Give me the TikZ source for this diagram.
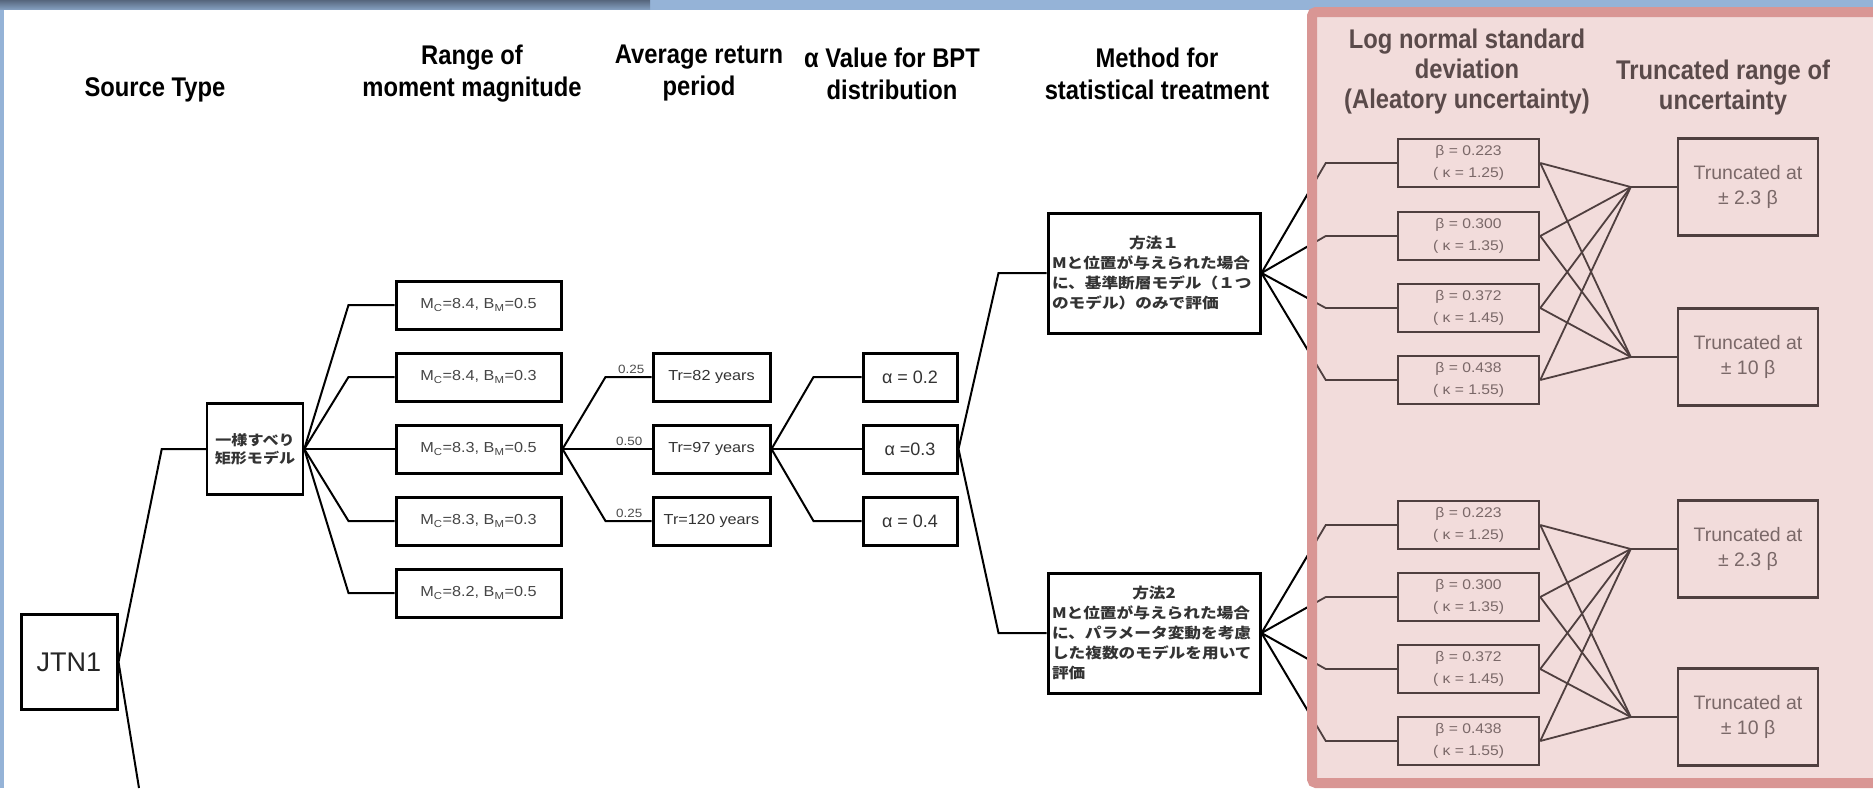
\documentclass[tikz,border=0pt]{standalone}
\usepackage{fontspec}
\setmainfont{Liberation Sans}
\newfontfamily\hdrfont[FakeStretch=0.88]{Liberation Sans}
\newfontfamily\boxfont[FakeStretch=1.12]{Liberation Sans}
\newfontfamily\jpfont[FakeStretch=1.15]{Noto Sans CJK JP}
\usetikzlibrary{calc}
\definecolor{bandblue}{HTML}{95B3D7}
\definecolor{banddark}{HTML}{56667D}
\definecolor{pinkfill}{HTML}{F2DCDB}
\definecolor{pinkedge}{HTML}{D99694}
\definecolor{pline}{HTML}{4F3F3F}
\definecolor{ptext}{HTML}{5A4A4A}
\definecolor{pgray}{HTML}{7A6868}
\definecolor{mgray}{HTML}{454545}
\tikzset{
  hdr/.style={font=\hdrfont\bfseries\fontsize{27}{32}\selectfont, align=center, inner sep=0pt, text=black},
  phdr/.style={font=\hdrfont\bfseries\fontsize{27}{30}\selectfont, align=center, inner sep=0pt, text=ptext},
  boxbase/.style={draw=black, line width=3pt, fill=white, inner sep=0pt, align=center},
  mbox/.style={boxbase, minimum width=165pt, minimum height=48pt, font=\boxfont\fontsize{14.5}{17}\selectfont, text=mgray},
  trbox/.style={boxbase, minimum width=117pt, minimum height=48pt, font=\boxfont\fontsize{14.5}{17}\selectfont, text=black!80},
  abox/.style={boxbase, minimum width=94pt, minimum height=48pt, font=\fontsize{18}{20}\selectfont, text=black!80},
  mthbox/.style={boxbase, inner sep=4pt, text width=204pt, minimum height=120pt, align=left, font=\jpfont\bfseries\fontsize{14.5}{20}\selectfont, text=black!80},
  bbox/.style={draw=pline, line width=2.5pt, fill=pinkfill, inner sep=0pt, align=center, minimum width=141pt, minimum height=48pt, font=\boxfont\fontsize{14}{22}\selectfont, text=pgray},
  tbox/.style={draw=pline, line width=2.5pt, fill=pinkfill, inner sep=0pt, align=center, minimum width=140pt, minimum height=97pt, font=\fontsize{19.5}{25}\selectfont, text=pgray},
  lbl/.style={inner sep=0pt, font=\boxfont\fontsize{12}{12}\selectfont, text=black!70},
  conn/.style={line width=2pt, draw=black},
  pconn/.style={line width=1.8pt, draw=pline}
}
\begin{document}
\begin{tikzpicture}[x=1pt,y=-1pt]
\useasboundingbox (0,0) rectangle (1873,788);
% background
\fill[white] (0,0) rectangle (1873,788);
\fill[bandblue] (0,0) rectangle (1873,10);
\fill[bandblue] (0,0) rectangle (4,788);
\shade[top color=banddark, bottom color=bandblue!70!banddark] (0,0) rectangle (650,9);
\fill[pinkfill, rounded corners=4pt] (1312,12) rectangle (1873,783);

% headers
\node[hdr] (hsrc) at (155,90) {Source Type};
\node[hdr] (hmag) at (472,73.5) {Range of\\moment magnitude};
\node[hdr] (hret) at (699,73.5) {Average return\\period};
\node[hdr] (halp) at (892,73.5) {α Value for BPT\\distribution};
\node[hdr] (hmet) at (1157,73.5) {Method for\\statistical treatment};
\node[phdr] (hlog) at (1467,72) {Log normal standard\\deviation\\(Aleatory uncertainty)};
\node[phdr] (htru) at (1723,87.5) {Truncated range of\\uncertainty};

% nodes
\node[boxbase, minimum width=96pt, minimum height=95pt, font=\fontsize{27}{30}\selectfont, text=black!85] (jtn) at (69,662) {JTN1};
\node[boxbase, line width=2.5pt, minimum width=96pt, minimum height=91pt, font=\jpfont\bfseries\fontsize{14}{18}\selectfont, text=black!80] (usm) at (255,449) {一様すべり\\矩形モデル};

\node[mbox] (m1) at (478.5,305) {M\textsubscript{C}=8.4, B\textsubscript{M}=0.5};
\node[mbox] (m2) at (478.5,377) {M\textsubscript{C}=8.4, B\textsubscript{M}=0.3};
\node[mbox] (m3) at (478.5,449) {M\textsubscript{C}=8.3, B\textsubscript{M}=0.5};
\node[mbox] (m4) at (478.5,521) {M\textsubscript{C}=8.3, B\textsubscript{M}=0.3};
\node[mbox] (m5) at (478.5,593) {M\textsubscript{C}=8.2, B\textsubscript{M}=0.5};

\node[trbox] (t1) at (711.5,377) {Tr=82 years};
\node[trbox] (t2) at (711.5,449) {Tr=97 years};
\node[trbox] (t3) at (711.5,521) {Tr=120 years};

\node[abox] (a1) at (910,377) {α = 0.2};
\node[abox] (a2) at (910,449) {α =0.3};
\node[abox] (a3) at (910,521) {α = 0.4};

\node[mthbox] (p1) at (1154,273) {\makebox[204pt]{方法１}\\Mと位置が与えられた場合\\に、基準断層モデル（１つ\\のモデル）のみで評価};
\node[mthbox] (p2) at (1154,633) {\makebox[204pt]{方法2}\\Mと位置が与えられた場合\\に、パラメータ変動を考慮\\した複数のモデルを用いて\\評価};

\node[bbox] (b1) at (1468.5,163) {β = 0.223\\( κ = 1.25)};
\node[bbox] (b2) at (1468.5,236) {β = 0.300\\( κ = 1.35)};
\node[bbox] (b3) at (1468.5,308) {β = 0.372\\( κ = 1.45)};
\node[bbox] (b4) at (1468.5,380) {β = 0.438\\( κ = 1.55)};
\node[bbox] (b5) at (1468.5,525) {β = 0.223\\( κ = 1.25)};
\node[bbox] (b6) at (1468.5,597) {β = 0.300\\( κ = 1.35)};
\node[bbox] (b7) at (1468.5,669) {β = 0.372\\( κ = 1.45)};
\node[bbox] (b8) at (1468.5,741) {β = 0.438\\( κ = 1.55)};

\node[tbox] (r1) at (1748,187) {Truncated at\\± 2.3 β};
\node[tbox] (r2) at (1748,357) {Truncated at\\± 10 β};
\node[tbox] (r3) at (1748,549) {Truncated at\\± 2.3 β};
\node[tbox] (r4) at (1748,717) {Truncated at\\± 10 β};

% labels on return-period branches
\node[lbl, anchor=south east] (l1) at ([xshift=-7pt,yshift=3pt]t1.west) {0.25};
\node[lbl, anchor=south east] (l2) at ([xshift=-9pt,yshift=3pt]t2.west) {0.50};
\node[lbl, anchor=south east] (l3) at ([xshift=-9pt,yshift=3pt]t3.west) {0.25};

% connectors
\coordinate (jout) at (139,788);
\draw[conn] (jtn.east) -- ([xshift=-44pt]usm.west) -- (usm.west);
\draw[conn] (jtn.east) -- (jout);
\foreach \k in {m1,m2,m3,m4,m5} \draw[conn] (usm.east) -- ([xshift=-46pt]\k.west) -- (\k.west);
\foreach \k in {t1,t2,t3} \draw[conn] (m3.east) -- ([xshift=-46pt]\k.west) -- (\k.west);
\foreach \k in {a1,a2,a3} \draw[conn] (t2.east) -- ([xshift=-48pt]\k.west) -- (\k.west);
\foreach \k in {p1,p2} \draw[conn] (a2.east) -- ([xshift=-48pt]\k.west) -- (\k.west);

\begin{scope}
  \clip (0,0) rectangle (1312,788);
  \foreach \k in {b1,b2,b3,b4} \draw[conn] (p1.east) -- ([xshift=-71pt]\k.west) -- (\k.west);
  \foreach \k in {b5,b6,b7,b8} \draw[conn] (p2.east) -- ([xshift=-71pt]\k.west) -- (\k.west);
\end{scope}
\begin{scope}
  \clip (1312,0) rectangle (1873,788);
  \foreach \k in {b1,b2,b3,b4} \draw[pconn] (p1.east) -- ([xshift=-71pt]\k.west) -- (\k.west);
  \foreach \k in {b5,b6,b7,b8} \draw[pconn] (p2.east) -- ([xshift=-71pt]\k.west) -- (\k.west);
\end{scope}

\foreach \b in {b1,b2,b3,b4} {
  \foreach \r in {r1,r2} \draw[pconn] (\b.east) -- ([xshift=-46pt]\r.west);
}
\foreach \b in {b5,b6,b7,b8} {
  \foreach \r in {r3,r4} \draw[pconn] (\b.east) -- ([xshift=-46pt]\r.west);
}
\foreach \r in {r1,r2,r3,r4} \draw[pconn] ([xshift=-46pt]\r.west) -- (\r.west);

% pink panel border on top
\draw[pinkedge, line width=10pt, rounded corners=4pt] (1873,12) -- (1312,12) -- (1312,783) -- (1873,783);
\end{tikzpicture}
\end{document}
